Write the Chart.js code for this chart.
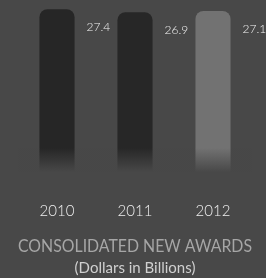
<!DOCTYPE html>
<html>
<head>
<meta charset="utf-8">
<script src="https://cdn.jsdelivr.net/npm/chart.js@4"></script>
<style>
  html, body { margin: 0; padding: 0; background: #484848; }
  #wrap { width: 266px; height: 278px; }
</style>
</head>
<body>
<div id="wrap"><canvas id="grafico" width="266" height="278"></canvas></div>
<script>
// datos del grafico
const anios = ['2010', '2011', '2012'];
const montos = [27.4, 26.9, 27.1];
const coloresBarra = [['#262626', '#363636'], ['#272727', '#383838'], ['#727272', '#888888']];

// gradiente horizontal
function colorBarra(ctx) {
    const chart = ctx.chart;
    const c = coloresBarra[ctx.dataIndex];
    const el = chart.getDatasetMeta(0).data[ctx.dataIndex];
    if (!el || !Number.isFinite(el.x) || !Number.isFinite(el.width)) return c[0];
    const g = chart.ctx.createLinearGradient(el.x - el.width / 2, 0, el.x + el.width / 2, 0);
    g.addColorStop(0, c[0]);
    g.addColorStop(0.5, c[0]);
    g.addColorStop(0.55, c[1]);
    g.addColorStop(1, c[1]);
    return g;
}

// etiquetas de valor a la derecha de la barra
const etiquetas = {
    id: 'etiquetas',
    afterDatasetsDraw(chart) {
        const ctx = chart.ctx;
        const meta = chart.getDatasetMeta(0);
        ctx.save();
        // desvanecido en la base
        const a = chart.chartArea;
        const g = ctx.createLinearGradient(0, a.bottom - 24, 0, a.bottom);
        g.addColorStop(0, 'rgba(72,72,72,0)');
        g.addColorStop(1, 'rgba(72,72,72,1)');
        ctx.fillStyle = g;
        ctx.fillRect(a.left, a.bottom - 24, a.right - a.left, 26);

        ctx.font = '300 12px Lato';
        ctx.fillStyle = '#f2f2f2';
        ctx.textAlign = 'left';
        ctx.textBaseline = 'middle';
        meta.data.forEach((bar, i) => {
            ctx.fillText(montos[i].toFixed(1), bar.x + bar.width / 2 + 12, bar.y + 18);
        });
        ctx.restore();
    }
};

new Chart(document.getElementById('grafico'), {
    type: 'bar',
    data: {
        labels: anios,
        datasets: [{
            data: montos,
            backgroundColor: colorBarra,
            borderRadius: { topLeft: 8, topRight: 8 },
            borderSkipped: false,
            barPercentage: 0.9,
            categoryPercentage: 0.5
        }]
    },
    options: {
        responsive: false,
        animation: false,
        layout: { padding: { left: 18, right: 14, top: 8, bottom: 1 } },
        plugins: {
            legend: { display: false },
            tooltip: { enabled: false },
            title: {
                display: true,
                text: 'CONSOLIDATED NEW AWARDS',
                position: 'bottom',
                weight: 1000,
                color: '#a6a6a6',
                font: { family: 'Lato', size: 17.5, weight: '400' },
                padding: { top: 16, bottom: 0 }
            },
            subtitle: {
                display: true,
                text: '(Dollars in Billions)',
                position: 'bottom',
                weight: 1500,
                color: '#d0d0d0',
                font: { family: 'Lato', size: 15, weight: '400' },
                padding: { top: 2, bottom: 0 }
            }
        },
        scales: {
            x: {
                grid: { display: false, drawTicks: false },
                border: { display: false },
                ticks: { color: '#f0f0f0', font: { family: 'Lato', size: 15, weight: '300' }, padding: 30 },
                afterFit(scale) { scale.height = 48; }
            },
            y: {
                display: false,
                min: 0,
                max: 27.6
            }
        }
    },
    plugins: [etiquetas]
});
</script>
</body>
</html>
